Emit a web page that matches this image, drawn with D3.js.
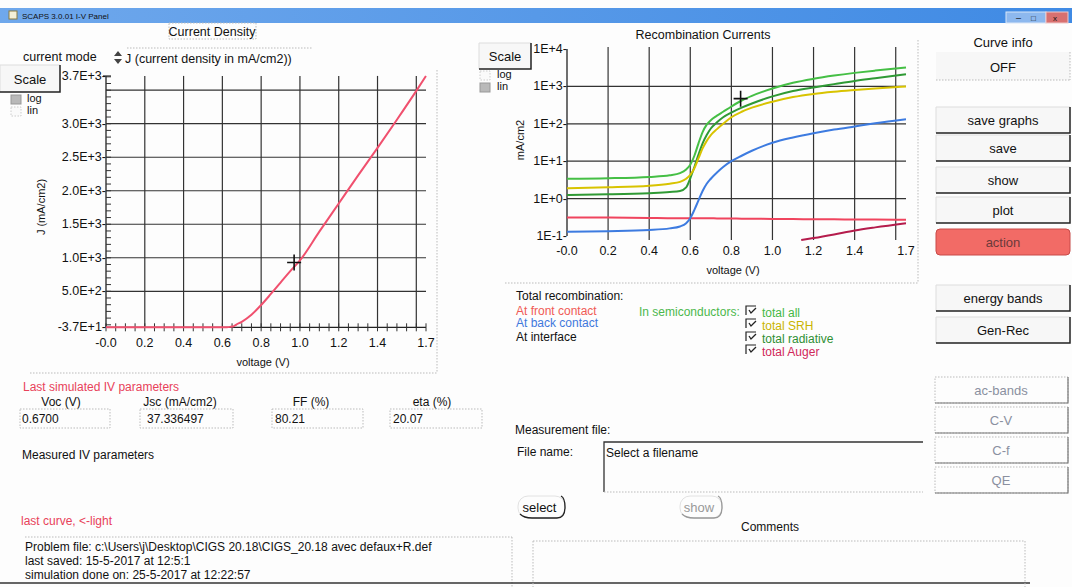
<!DOCTYPE html>
<html>
<head>
<meta charset="utf-8">
<script src="https://cdn.jsdelivr.net/npm/d3@7"></script>
<style>
  body { margin: 0; background: #fff; }
  svg { display: block; font-family: "Liberation Sans", Arial, sans-serif; }
  text { fill: #111; font-size: 12px; }
  .grid { stroke: #333; stroke-width: 1.2; }
  .dots { stroke: #bbb; stroke-width: 1; stroke-dasharray: 1.5 1.5; fill: none; }
</style>
</head>
<body>
<svg id="panel" width="1072" height="587"></svg>
<script>
// ---- I-V curve (current density) ----
const ivVoltage = [0, 0.2, 0.4, 0.55, 0.6, 0.62, 0.64, 0.66, 0.67, 0.7, 0.75, 0.8, 0.85, 0.9, 0.95, 1.0, 1.1, 1.2, 1.3, 1.4, 1.5, 1.6, 1.65];
const ivCurrent = [-37.34, -37.3, -37.2, -37.0, -36.3, -35.0, -31.0, -20.0, 0, 45, 150, 295, 460, 630, 800, 960, 1390, 1810, 2230, 2640, 3060, 3490, 3713];
const ivXTicks = [0, 0.2, 0.4, 0.6, 0.8, 1.0, 1.2, 1.4, 1.65];
const ivXLabels = ["-0.0", "0.2", "0.4", "0.6", "0.8", "1.0", "1.2", "1.4", "1.7"];
const ivXGrid = [0.2, 0.4, 0.6, 0.8, 1.0, 1.2, 1.4, 1.6];
const ivYTicks = [-37.3, 500, 1000, 1500, 2000, 2500, 3000, 3713];
const ivYLabels = ["-3.7E+1", "5.0E+2", "1.0E+3", "1.5E+3", "2.0E+3", "2.5E+3", "3.0E+3", "3.7E+3"];
const ivYGrid = [500, 1000, 1500, 2000, 2500, 3000, 3500];

// ---- recombination currents (mA/cm2) ----
const recVoltage = [0, 0.2, 0.4, 0.5, 0.55, 0.58, 0.6, 0.62, 0.64, 0.66, 0.68, 0.7, 0.73, 0.76, 0.8, 0.85, 0.9, 1.0, 1.1, 1.2, 1.3, 1.4, 1.5, 1.65];
const recFront     = [0.31, 0.31, 0.305, 0.30, 0.30, 0.30, 0.30, 0.30, 0.30, 0.30, 0.30, 0.30, 0.295, 0.295, 0.295, 0.29, 0.29, 0.285, 0.285, 0.28, 0.28, 0.275, 0.275, 0.27];
const recBack      = [0.13, 0.135, 0.145, 0.16, 0.18, 0.22, 0.3, 0.5, 0.9, 1.6, 2.5, 3.4, 5, 7, 10, 14, 19, 31, 43, 56, 70, 85, 103, 132];
const recTotalAll  = [3.4, 3.5, 3.8, 4.2, 4.8, 6, 8, 14, 30, 60, 95, 125, 165, 210, 290, 420, 560, 880, 1250, 1600, 1950, 2300, 2650, 3200];
const recSRH       = [1.9, 2.0, 2.2, 2.5, 2.8, 3.4, 4.3, 6.5, 12, 22, 35, 50, 72, 100, 150, 210, 270, 390, 520, 630, 720, 800, 880, 1000];
const recRadiative = [1.25, 1.3, 1.4, 1.5, 1.6, 2.0, 3.5, 7, 15, 30, 50, 75, 110, 150, 200, 270, 350, 540, 750, 940, 1150, 1400, 1650, 2100];
const augerVoltage = [1.14, 1.2, 1.3, 1.4, 1.5, 1.65];
const recAuger     = [0.078, 0.088, 0.11, 0.14, 0.17, 0.22];
const recXTicks = [0, 0.2, 0.4, 0.6, 0.8, 1.0, 1.2, 1.4, 1.65];
const recXLabels = ["-0.0", "0.2", "0.4", "0.6", "0.8", "1.0", "1.2", "1.4", "1.7"];
const recXGrid = [0.2, 0.4, 0.6, 0.8, 1.0, 1.2, 1.4, 1.6];
const recYTicks = [0.1, 1, 10, 100, 1000, 10000];
const recYLabels = ["1E-1", "1E+0", "1E+1", "1E+2", "1E+3", "1E+4"];
const recYGrid = [1, 10, 100, 1000];

// ---- panel values ----
const ivParamNames = ["Voc (V)", "Jsc (mA/cm2)", "FF  (%)", "eta (%)"];
const ivParamValues = ["0.6700", "37.336497", "80.21", "20.07"];
const sideButtons = ["save graphs", "save", "show", "plot", "action"];
const lowerButtons = ["energy bands", "Gen-Rec"];
const greyButtons = ["ac-bands", "C-V", "C-f", "QE"];
const problemLines = [
  "Problem file: c:\\Users\\j\\Desktop\\CIGS 20.18\\CIGS_20.18 avec defaux+R.def",
  "last saved: 15-5-2017 at 12:5:1",
  "simulation done on: 25-5-2017 at 12:22:57"
];

const svg = d3.select("#panel");
svg.append("rect").attr("width", 1072).attr("height", 587).attr("fill", "#fdfdfd");

// title bar
const grad = svg.append("defs").append("linearGradient").attr("id", "bar");
grad.append("stop").attr("offset", "0%").attr("stop-color", "#6fa8ec");
grad.append("stop").attr("offset", "100%").attr("stop-color", "#3f8ae4");
svg.append("rect").attr("x", 0).attr("y", 8).attr("width", 1072).attr("height", 15).attr("fill", "url(#bar)");
svg.append("rect").attr("x", 9).attr("y", 11).attr("width", 8).attr("height", 8).attr("fill", "#f4f0d8").attr("stroke", "#8a7a40");
svg.append("text").attr("x", 22).attr("y", 19).style("font-size", "8px").attr("fill", "#1c2850").text("SCAPS 3.0.01 I-V Panel");
svg.append("rect").attr("x", 1006).attr("y", 12).attr("width", 40).attr("height", 11).attr("fill", "#8db8ee").attr("stroke", "#d8e6f8");
svg.append("rect").attr("x", 1046).attr("y", 12).attr("width", 22).attr("height", 11).attr("fill", "#d87070").attr("stroke", "#f0c8c8");
svg.append("text").attr("x", 1016).attr("y", 21).attr("fill", "#fff").style("font-size", "9px").text("–");
svg.append("text").attr("x", 1031).attr("y", 21).attr("fill", "#fff").style("font-size", "8px").text("□");
svg.append("text").attr("x", 1053).attr("y", 21).attr("fill", "#fff").style("font-size", "8px").text("x");

// generic helpers
function dotted(x1, y1, x2, y2) {
  svg.append("line").attr("class", "dots").attr("x1", x1).attr("y1", y1).attr("x2", x2).attr("y2", y2);
}
function bevelButton(x, y, w, h, label, textColor) {
  const g = svg.append("g");
  g.append("rect").attr("x", x).attr("y", y).attr("width", w).attr("height", h).attr("fill", "#f7f7f7");
  g.append("path").attr("d", `M${x},${y + h} L${x},${y} L${x + w},${y}`).attr("fill", "none").attr("stroke", "#ddd");
  g.append("path").attr("d", `M${x},${y + h} L${x + w},${y + h} L${x + w},${y}`).attr("fill", "none")
    .attr("stroke", textColor ? "#777" : "#222").attr("stroke-width", 1.5);
  g.append("text").attr("x", x + w / 2).attr("y", y + h / 2 + 5).attr("text-anchor", "middle")
    .style("font-size", "13px").attr("fill", textColor || "#111").text(label);
}
function checkBox(x, y, filled) {
  svg.append("rect").attr("x", x).attr("y", y).attr("width", 10).attr("height", 9)
    .attr("fill", filled ? "#b9b9b9" : "#fafafa").attr("stroke", filled ? "#999" : "#ccc")
    .attr("stroke-dasharray", filled ? null : "1.5 1.5");
}

// ================= left chart: Current Density =================
svg.append("rect").attr("x", 169).attr("y", 23).attr("width", 87).attr("height", 16).attr("class", "dots");
svg.append("text").attr("x", 212).attr("y", 36).attr("text-anchor", "middle").style("font-size", "12.5px").text("Current Density");
svg.append("text").attr("x", 23).attr("y", 61).style("font-size", "12.5px").text("current mode");
svg.append("path").attr("d", "M114,56 L118,51 L122,56 Z M114,59 L118,64 L122,59 Z").attr("fill", "#444");
svg.append("text").attr("x", 125).attr("y", 63).style("font-size", "12.5px").text("J (current density in mA/cm2))");
dotted(127, 48, 313, 48);
bevelButton(0, 65, 60, 27, "Scale");
checkBox(11, 95, true);
checkBox(11, 107, false);
svg.append("text").attr("x", 27).attr("y", 102).style("font-size", "11px").text("log");
svg.append("text").attr("x", 27).attr("y", 114).style("font-size", "11px").text("lin");
dotted(437, 70, 437, 373);
dotted(30, 373, 437, 373);

const xIV = d3.scaleLinear().domain([0, 1.65]).range([106, 426]);
const yIV = d3.scaleLinear().domain([0, 3700]).range([324.8, 76.8]);
const ivTop = yIV(3713), ivBottom = yIV(-37.3);
const left = svg.append("g");

left.selectAll(".vgrid").data(ivXGrid).join("line").attr("class", "grid")
  .attr("x1", d => xIV(d)).attr("x2", d => xIV(d)).attr("y1", ivTop).attr("y2", ivBottom);
left.selectAll(".hgrid").data(ivYGrid).join("line").attr("class", "grid")
  .attr("x1", xIV(0)).attr("x2", xIV(1.65)).attr("y1", d => yIV(d)).attr("y2", d => yIV(d));
// axes lines
left.append("line").attr("x1", xIV(0)).attr("x2", xIV(0)).attr("y1", ivTop).attr("y2", ivBottom).attr("stroke", "#222").attr("stroke-width", 1.3);
left.append("line").attr("x1", xIV(0)).attr("x2", xIV(1.65)).attr("y1", ivBottom).attr("y2", ivBottom).attr("stroke", "#222").attr("stroke-width", 1.3);
// minor ticks
left.selectAll(".ymin").data(d3.range(0, 3701, 100)).join("line")
  .attr("x1", xIV(0)).attr("x2", xIV(0) + 5).attr("y1", d => yIV(d)).attr("y2", d => yIV(d)).attr("stroke", "#333");
left.selectAll(".xmin").data(d3.range(0, 1.651, 0.05)).join("line")
  .attr("x1", d => xIV(d)).attr("x2", d => xIV(d)).attr("y1", ivBottom - 4).attr("y2", ivBottom + 4).attr("stroke", "#333");
left.append("line").attr("x1", xIV(0) - 3).attr("x2", xIV(0) + 5).attr("y1", ivTop).attr("y2", ivTop).attr("stroke", "#222");
// tick labels
left.selectAll(".ylab").data(ivYTicks).join("text").attr("x", xIV(0)).attr("y", d => yIV(d) + 4)
  .attr("text-anchor", "end").style("font-size", "12.5px").text((d, i) => ivYLabels[i] + "-");
left.selectAll(".xlab").data(ivXTicks).join("text").attr("x", d => xIV(d)).attr("y", ivBottom + 20)
  .attr("text-anchor", "middle").style("font-size", "12.5px").text((d, i) => ivXLabels[i]);
left.append("text").attr("x", 263).attr("y", 366).attr("text-anchor", "middle").style("font-size", "11px").text("voltage (V)");
left.append("text").attr("transform", "translate(45,207) rotate(-90)").attr("text-anchor", "middle").style("font-size", "11px").text("J (mA/cm2)");

const ivLine = d3.line().x((d, i) => xIV(ivVoltage[i])).y(d => yIV(d)).curve(d3.curveMonotoneX);
left.append("path").datum(ivCurrent).attr("d", ivLine).attr("fill", "none").attr("stroke", "#f0506e").attr("stroke-width", 2);
// mouse cursor
function cursor(g, cx, cy) {
  g.append("path").attr("d", `M${cx - 7},${cy} L${cx + 7},${cy} M${cx},${cy - 8} L${cx},${cy + 8}`).attr("stroke", "#111").attr("stroke-width", 1.6);
}
cursor(left, xIV(0.97), yIV(930));

// ================= right chart: Recombination Currents =================
svg.append("text").attr("x", 703).attr("y", 39).attr("text-anchor", "middle").style("font-size", "12.5px").text("Recombination Currents");
bevelButton(479, 43, 52, 26, "Scale");
checkBox(480, 71, false);
checkBox(480, 83, true);
svg.append("text").attr("x", 497).attr("y", 78).style("font-size", "11px").text("log");
svg.append("text").attr("x", 497).attr("y", 90).style("font-size", "11px").text("lin");
dotted(918, 40, 918, 283);
dotted(505, 283, 918, 283);

const xR = d3.scaleLinear().domain([0, 1.65]).range([567, 906]);
const yR = d3.scaleLog().domain([0.1, 10000]).range([236, 49]);
const right = svg.append("g");
svg.append("defs").append("clipPath").attr("id", "recClip")
  .append("rect").attr("x", xR(0)).attr("y", 44).attr("width", xR(1.65) - xR(0) + 2).attr("height", 197);

right.selectAll(".vgrid").data(recXGrid).join("line").attr("class", "grid")
  .attr("x1", d => xR(d)).attr("x2", d => xR(d)).attr("y1", 47).attr("y2", 240);
right.selectAll(".hgrid").data(recYGrid).join("line").attr("class", "grid")
  .attr("x1", xR(0)).attr("x2", xR(1.65)).attr("y1", d => yR(d)).attr("y2", d => yR(d));
right.append("line").attr("x1", xR(0)).attr("x2", xR(0)).attr("y1", yR(10000)).attr("y2", yR(0.1)).attr("stroke", "#222").attr("stroke-width", 1.3);
right.selectAll(".ylab").data(recYTicks).join("text").attr("x", xR(0)).attr("y", d => yR(d) + 4)
  .attr("text-anchor", "end").style("font-size", "12.5px").text((d, i) => recYLabels[i] + "-");
right.selectAll(".xlab").data(recXTicks).join("text").attr("x", d => xR(d)).attr("y", 255)
  .attr("text-anchor", "middle").style("font-size", "12.5px").text((d, i) => recXLabels[i]);
right.append("text").attr("x", 733).attr("y", 274).attr("text-anchor", "middle").style("font-size", "11px").text("voltage (V)");
right.append("text").attr("transform", "translate(524,140) rotate(-90)").attr("text-anchor", "middle").style("font-size", "11px").text("mA/cm2");

const recSeries = [
  { values: recFront, color: "#f0445e" },
  { values: recBack, color: "#3d7be0" },
  { values: recRadiative, color: "#2f9a35" },
  { values: recSRH, color: "#d8c300" },
  { values: recTotalAll, color: "#45bf45" }
];
const plot = right.append("g").attr("clip-path", "url(#recClip)");
recSeries.forEach(s => {
  const line = d3.line().x((d, i) => xR(recVoltage[i])).y(d => yR(d)).curve(d3.curveMonotoneX);
  plot.append("path").datum(s.values).attr("d", line).attr("fill", "none").attr("stroke", s.color).attr("stroke-width", 2);
});
const augerLine = d3.line().x((d, i) => xR(augerVoltage[i])).y(d => yR(d)).curve(d3.curveMonotoneX);
plot.append("path").datum(recAuger).attr("d", augerLine).attr("fill", "none").attr("stroke", "#b51c4c").attr("stroke-width", 2);
cursor(right, xR(0.845), yR(470));

// legend
const legend = [
  { text: "Total recombination:", color: "#111", y: 300 },
  { text: "At front contact", color: "#f05a55", y: 315 },
  { text: "At back contact", color: "#3f78dc", y: 327 },
  { text: "At interface", color: "#111", y: 341 }
];
svg.selectAll(".leg").data(legend).join("text").attr("x", 516).attr("y", d => d.y)
  .attr("fill", d => d.color).style("fill", d => d.color).text(d => d.text);
svg.append("text").attr("x", 639).attr("y", 316).style("fill", "#4cb84c").text("In semiconductors:");
const semiLegend = [
  { text: "total all", color: "#45b845", y: 317 },
  { text: "total SRH", color: "#c9b400", y: 330 },
  { text: "total radiative", color: "#2f8f33", y: 343 },
  { text: "total Auger", color: "#d0285a", y: 356 }
];
semiLegend.forEach(d => {
  const bx = 746, by = d.y - 11;
  svg.append("path").attr("d", `M${bx},${by + 9} L${bx},${by} L${bx + 10},${by}`).attr("fill", "none").attr("stroke", "#222").attr("stroke-width", 1.2);
  svg.append("path").attr("d", `M${bx + 3},${by + 4} L${bx + 5},${by + 7} L${bx + 10},${by + 2}`).attr("fill", "none").attr("stroke", "#222").attr("stroke-width", 1.3);
  svg.append("text").attr("x", 762).attr("y", d.y).style("fill", d.color).text(d.text);
});

// ================= right column buttons =================
svg.append("text").attr("x", 1003).attr("y", 47).attr("text-anchor", "middle").style("font-size", "13px").text("Curve info");
svg.append("rect").attr("x", 936).attr("y", 52).attr("width", 134).attr("height", 28).attr("fill", "#f7f7f7");
dotted(936, 80, 1070, 80);
dotted(1070, 52, 1070, 80);
svg.append("text").attr("x", 1003).attr("y", 72).attr("text-anchor", "middle").style("font-size", "13px").text("OFF");

const sideY = [107, 135, 167, 197, 229];
sideButtons.forEach((label, i) => {
  if (label === "action") {
    svg.append("rect").attr("x", 936).attr("y", sideY[i]).attr("width", 134).attr("height", 26).attr("rx", 4)
      .attr("fill", "#f26b66").attr("stroke", "#c84a48");
    svg.append("text").attr("x", 1003).attr("y", sideY[i] + 18).attr("text-anchor", "middle")
      .style("font-size", "13px").style("fill", "#6a3a3a").text(label);
  } else {
    bevelButton(936, sideY[i], 134, 26, label);
  }
});
const lowerY = [285, 317];
lowerButtons.forEach((label, i) => bevelButton(936, lowerY[i], 134, 26, label));
const greyY = [377, 407, 437, 467];
greyButtons.forEach((label, i) => {
  svg.append("rect").attr("x", 935).attr("y", greyY[i]).attr("width", 133).attr("height", 26).attr("class", "dots").attr("fill", "#f6f6f6");
  svg.append("path").attr("d", `M935,${greyY[i] + 26} L1068,${greyY[i] + 26} L1068,${greyY[i]}`)
    .attr("fill", "none").attr("stroke", "#777").attr("stroke-width", 1.2);
  svg.append("text").attr("x", 1001).attr("y", greyY[i] + 18).attr("text-anchor", "middle")
    .style("font-size", "13px").style("fill", "#8a90a0").text(label);
});

// ================= IV parameters =================
svg.append("text").attr("x", 23).attr("y", 391).style("fill", "#e8425a").text("Last simulated IV parameters");
const paramHeadX = [61, 180, 311, 432];
const paramBoxX = [20, 140, 272, 390];
const paramBoxW = [90, 93, 91, 92];
const paramValX = [22, 147, 275, 393];
ivParamNames.forEach((name, i) => {
  svg.append("text").attr("x", paramHeadX[i]).attr("y", 406).attr("text-anchor", "middle").text(name);
  svg.append("rect").attr("x", paramBoxX[i]).attr("y", 409).attr("width", paramBoxW[i]).attr("height", 19).attr("class", "dots");
  svg.append("text").attr("x", paramValX[i]).attr("y", 423).text(ivParamValues[i]);
});
svg.append("text").attr("x", 22).attr("y", 459).text("Measured IV parameters");
svg.append("text").attr("x", 21).attr("y", 525).style("fill", "#e8425a").text("last curve, <-light");

dotted(25, 537, 512, 537);
dotted(512, 537, 512, 587);
problemLines.forEach((line, i) => {
  svg.append("text").attr("x", 25).attr("y", 551 + i * 14).text(line);
});
svg.append("line").attr("x1", 0).attr("x2", 1030).attr("y1", 583).attr("y2", 583).attr("stroke", "#333").attr("stroke-width", 1.5);

// ================= measurement file =================
svg.append("text").attr("x", 515).attr("y", 434).text("Measurement file:");
svg.append("text").attr("x", 517).attr("y", 456).text("File name:");
svg.append("path").attr("d", "M604,492 L604,442 L923,442").attr("fill", "none").attr("stroke", "#333").attr("stroke-width", 1.3);
dotted(604, 492, 923, 492);
svg.append("text").attr("x", 606).attr("y", 457).text("Select a filename");
function pillButton(x, y, w, h, label, dark) {
  svg.append("rect").attr("x", x).attr("y", y).attr("width", w).attr("height", h).attr("rx", 10)
    .attr("fill", "none").attr("stroke", "#e2e2e2");
  svg.append("path").attr("d", `M${x + 2},${y + h - 4} Q${x + 6},${y + h} ${x + 14},${y + h} L${x + w - 8},${y + h} Q${x + w},${y + h} ${x + w},${y + h / 2} Q${x + w},${y + 2} ${x + w - 4},${y}`)
    .attr("fill", "none").attr("stroke", dark ? "#222" : "#999").attr("stroke-width", 1.3);
  svg.append("text").attr("x", x + w / 2 - 2).attr("y", y + h / 2 + 5).attr("text-anchor", "middle")
    .style("font-size", "13px").style("fill", dark ? "#111" : "#999").text(label);
}
pillButton(518, 496, 47, 22, "select", true);
pillButton(680, 496, 42, 22, "show", false);
svg.append("text").attr("x", 770).attr("y", 531).attr("text-anchor", "middle").text("Comments");
dotted(533, 541, 1025, 541);
dotted(533, 541, 533, 587);
dotted(1025, 541, 1025, 587);
</script>
</body>
</html>
